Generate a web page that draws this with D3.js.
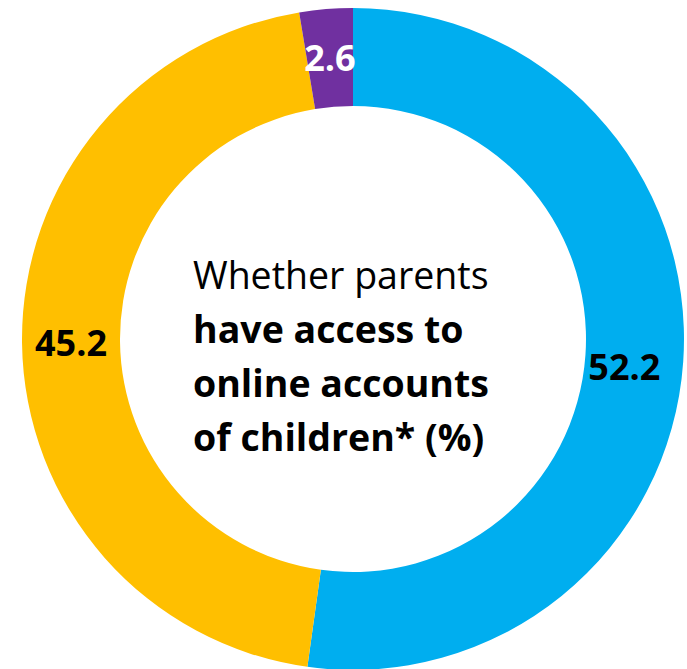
<!DOCTYPE html>
<html>
<head>
<meta charset="utf-8">
<script src="https://cdn.jsdelivr.net/npm/d3@7/dist/d3.min.js"></script>
<style>
  html, body { margin: 0; padding: 0; background: #ffffff; }
  svg { display: block; }
  text { font-family: "Open Sans", "Noto Sans", sans-serif; }
</style>
</head>
<body>
<svg id="chart" width="687" height="669"></svg>
<script>
// Share of parents with access to their children's online accounts
const categories = ["Yes", "No", "Don't know"];
const values = [52.2, 45.2, 2.6];
const colors = ["#00AEEF", "#FFBF00", "#7030A0"];
const labelColors = ["#000000", "#000000", "#ffffff"];
const titleLines = [
  { text: "Whether parents", bold: false },
  { text: "have access to", bold: true },
  { text: "online accounts", bold: true },
  { text: "of children* (%)", bold: true }
];

const width = 687, height = 669;
const cx = 353, cy = 339;
const outerR = 331, innerR = 233;

const svg = d3.select("#chart");
const g = svg.append("g").attr("transform", `translate(${cx},${cy})`);

const pie = d3.pie().sort(null).value(d => d.value);
const arcs = pie(categories.map((c, i) => ({ category: c, value: values[i], i })));

const arc = d3.arc().innerRadius(innerR).outerRadius(outerR);
const labelArc = d3.arc().innerRadius(innerR).outerRadius(outerR);
// small inward nudge for the large right-hand value label
const labelShift = [[-10, 9], [0, 0], [0, 0]];

g.selectAll("path.slice")
  .data(arcs)
  .join("path")
  .attr("class", "slice")
  .attr("d", arc)
  .attr("fill", d => colors[d.data.i]);

g.selectAll("text.value")
  .data(arcs)
  .join("text")
  .attr("class", "value")
  .attr("transform", d => {
    const [x, y] = labelArc.centroid(d);
    const [sx, sy] = labelShift[d.data.i];
    return `translate(${x + sx},${y + sy})`;
  })
  .attr("text-anchor", "middle")
  .attr("dy", "0.36em")
  .attr("font-size", 36)
  .attr("font-weight", 700)
  .attr("fill", d => labelColors[d.data.i])
  .text(d => d3.format(".1f")(d.data.value));

// Centre caption
const title = svg.append("text")
  .attr("x", 193)
  .attr("y", 289)
  .attr("font-size", 37.5)
  .attr("fill", "#000");

title.selectAll("tspan")
  .data(titleLines)
  .join("tspan")
  .attr("x", 193)
  .attr("dy", (d, i) => i === 0 ? 0 : 54)
  .attr("font-weight", d => d.bold ? 700 : 400)
  .text(d => d.text);
</script>
</body>
</html>
